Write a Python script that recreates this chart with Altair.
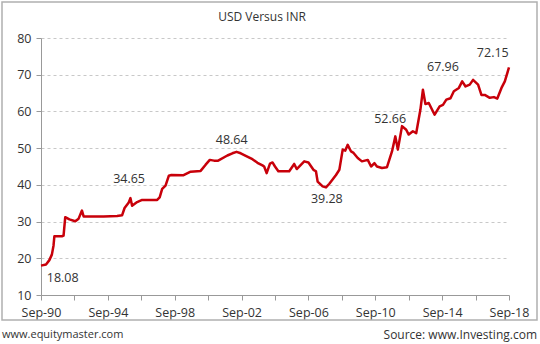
import altair as alt
import pandas as pd

# Series: fractional year (Sep-90 = 1990.75) and USD/INR rate
years = [1990.75, 1991.05, 1991.25, 1991.4, 1991.5, 1991.55, 1992.0, 1992.1, 1992.2, 1992.45,
         1992.8, 1993.0, 1993.2, 1993.3, 1994.5, 1995.3, 1995.6, 1995.75, 1996.0, 1996.1,
         1996.2, 1996.5, 1996.8, 1997.7, 1997.85, 1998.0, 1998.2, 1998.4, 1998.55, 1999.25,
         1999.7, 2000.3, 2000.6, 2000.85, 2001.1, 2001.35, 2001.9, 2002.2, 2002.45, 2002.7,
         2003.0, 2003.4, 2003.7, 2004.0, 2004.1, 2004.25, 2004.45, 2004.6, 2004.75, 2004.95,
         2005.6, 2005.9, 2006.05, 2006.5, 2006.75, 2007.05, 2007.2, 2007.3, 2007.6, 2007.8,
         2008.0, 2008.4, 2008.6, 2008.8, 2008.95, 2009.1, 2009.3, 2009.45, 2009.7, 2009.95,
         2010.3, 2010.5, 2010.7, 2010.85, 2011.15, 2011.45, 2011.75, 2011.95, 2012.1, 2012.35,
         2012.6, 2012.75, 2013.0, 2013.2, 2013.45, 2013.6, 2013.75, 2013.95, 2014.3, 2014.6,
         2014.8, 2015.0, 2015.25, 2015.45, 2015.75, 2015.95, 2016.15, 2016.4, 2016.6, 2016.9,
         2017.1, 2017.3, 2017.6, 2017.85, 2018.05, 2018.3, 2018.5, 2018.75]
rates = [18.0, 18.3, 19.5, 21.0, 23.5, 26.0, 26.0, 26.2, 31.2, 30.6,
         30.1, 30.8, 33.0, 31.4, 31.4, 31.5, 31.7, 33.7, 35.2, 36.4,
         34.3, 35.3, 35.9, 35.9, 36.6, 38.9, 39.8, 42.5, 42.7, 42.6,
         43.6, 43.8, 45.5, 46.8, 46.6, 46.6, 48.0, 48.6, 49.0, 48.6,
         47.9, 47.0, 46.0, 45.3, 45.0, 43.2, 45.8, 46.1, 45.0, 43.7,
         43.7, 45.7, 44.3, 46.4, 46.1, 44.1, 43.7, 40.9, 39.6, 39.3,
         40.3, 42.7, 44.1, 49.6, 49.3, 50.9, 49.1, 48.7, 47.3, 46.4,
         46.8, 45.0, 45.9, 45.0, 44.6, 44.8, 49.1, 53.2, 49.6, 56.0,
         55.0, 53.7, 54.6, 54.1, 60.5, 65.9, 62.0, 62.3, 59.1, 61.4,
         61.8, 63.2, 63.6, 65.5, 66.4, 68.2, 66.8, 67.3, 68.6, 67.3,
         64.5, 64.5, 63.7, 63.9, 63.5, 66.4, 68.2, 72.0]

# Annotations: text, anchor year, anchor value
label_text = ["18.08", "34.65", "48.64", "39.28", "52.66", "67.96", "72.15"]
label_year = [1992.05, 1996.02, 2002.16, 2007.85, 2011.64, 2014.8, 2017.78]
label_value = [14.7, 41.7, 52.1, 36.2, 58.0, 72.0, 75.9]

tick_years = [1990.75 + 2 * i for i in range(15)]
y_ticks = [10, 20, 30, 40, 50, 60, 70, 80]

df = pd.DataFrame({"year": years, "rate": rates})
labels = pd.DataFrame({"text": label_text, "year": label_year, "value": label_value})

FONT = "Open Sans"
TXT = "#333333"

x_scale = alt.Scale(domain=[1990.75, 2018.75], nice=False, zero=False)
y_scale = alt.Scale(domain=[10, 80], nice=False, zero=False)

x_axis = alt.Axis(
    values=tick_years,
    labelExpr="(datum.value - 1990.75) % 4 == 0 ? 'Sep-' + slice('0' + (floor(datum.value) % 100), -2) : ''",
    grid=False, title=None, domainColor="#999999", tickColor="#999999", tickSize=5,
    labelFont=FONT, labelFontSize=12.5, labelColor=TXT, labelPadding=6, labelOverlap=False,
    labelFlush=False,
)
y_axis = alt.Axis(
    values=y_ticks, grid=True, gridDash=[3, 3], gridColor="#c8c8c8", title=None,
    domainColor="#999999", tickColor="#999999", tickSize=5, labelOverlap=False,
    labelFont=FONT, labelFontSize=12.5, labelColor=TXT, labelPadding=5,
)

line = alt.Chart(df).mark_line(color="#c8000a", strokeWidth=2.5, strokeJoin="round").encode(
    x=alt.X("year:Q", scale=x_scale, axis=x_axis),
    y=alt.Y("rate:Q", scale=y_scale, axis=y_axis),
)

ann = alt.Chart(labels).mark_text(font=FONT, fontSize=12.5, color=TXT).encode(
    x=alt.X("year:Q", scale=x_scale, axis=x_axis),
    y=alt.Y("value:Q", scale=y_scale, axis=y_axis),
    text="text:N",
)

title = alt.Chart(pd.DataFrame({"t": ["USD Versus INR"]})).mark_text(
    font=FONT, fontSize=12, color=TXT, align="center", baseline="middle"
).encode(x=alt.value(221), y=alt.value(-21), text="t:N")

left_foot = alt.Chart(pd.DataFrame({"t": ["www.equitymaster.com"]})).mark_text(
    font=FONT, fontSize=11, color=TXT, align="left", baseline="middle"
).encode(x=alt.value(-39), y=alt.value(297), text="t:N")

right_foot = alt.Chart(pd.DataFrame({"t": ["Source: www.Investing.com"]})).mark_text(
    font=FONT, fontSize=12, color=TXT, align="right", baseline="middle"
).encode(x=alt.value(496), y=alt.value(297), text="t:N")

border = alt.Chart(pd.DataFrame({"a": [0]})).mark_rect(
    fill=None, stroke="#b0b0b0", strokeWidth=1.5
).encode(x=alt.value(-39), x2=alt.value(496), y=alt.value(-36), y2=alt.value(282))

chart = alt.layer(border, line, ann, title, left_foot, right_foot).properties(
    width=468, height=257,
    autosize=alt.AutoSizeParams(type="none"),
    padding={"left": 41, "top": 38, "right": 31, "bottom": 49},
    background="white",
).configure_view(stroke=None)

chart.save("out.html", embed_options={"renderer": "svg", "actions": False})
